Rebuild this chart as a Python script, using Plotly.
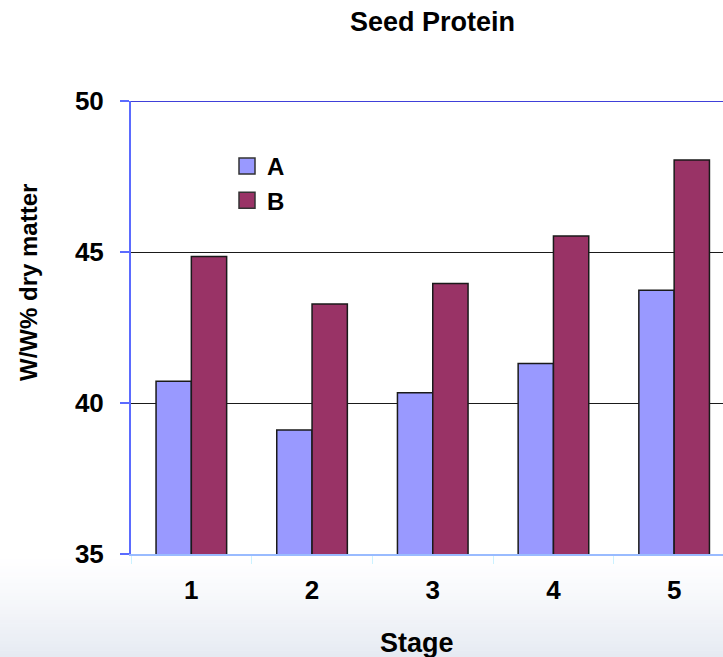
import plotly.graph_objects as go

# Seed protein content by development stage
stages = ["1", "2", "3", "4", "5"]
series_a = [40.72, 39.11, 40.34, 41.31, 43.73]
series_b = [44.85, 43.28, 43.96, 45.53, 48.05]
series_names = ["A", "B"]
y_ticks = [35, 40, 45, 50]

COLOR_A = "#9999ff"
COLOR_B = "#993366"
EDGE = "#1a1a1a"
FONT = "Liberation Sans, Arial, sans-serif"

W, H = 723, 657
L, R, T, B = 131, 0, 101, 103
y_range = [y_ticks[0], y_ticks[-1]]

fig = go.Figure()

for name, vals, col in [(series_names[0], series_a, COLOR_A), (series_names[1], series_b, COLOR_B)]:
    fig.add_trace(go.Bar(
        x=stages, y=vals, name=name, marker=dict(color=col, line=dict(color=EDGE, width=1.5)),
        showlegend=False, legendgroup=name,
    ))
    # square legend swatch
    fig.add_trace(go.Scatter(
        x=[None], y=[None], mode="markers", name=name, legendgroup=name,
        marker=dict(symbol="square", size=16, color=col, line=dict(color="#333333", width=1.5)),
    ))

plot_h = H - T - B
plot_w = W - L - R


def px_x(p):
    return (p - L) / plot_w


def px_y(p):
    return (H - B - p) / plot_h


# soft slide background: bottom band and left edge
shapes = []
n = 30
top_px, bot_px = 556, H
c0 = (255, 255, 255)
c1 = (230, 234, 242)
for i in range(n):
    p0 = top_px + (bot_px - top_px) * i / n
    p1 = top_px + (bot_px - top_px) * (i + 1) / n
    t = ((i + 0.5) / n) ** 1.2
    c = tuple(round(c0[k] + (c1[k] - c0[k]) * t) for k in range(3))
    shapes.append(dict(
        type="rect", xref="paper", yref="paper", layer="below",
        x0=px_x(0), x1=1.0, y0=px_y(p0), y1=px_y(p1 + 0.5),
        fillcolor="rgb(%d,%d,%d)" % c, line=dict(width=0),
    ))
m, k = 12, 5
for i in range(m):
    x1 = 75 * (i + 1) / m
    for j in range(k):
        top = 220 + 300 * j / k
        shapes.append(dict(
            type="rect", xref="paper", yref="paper", layer="below",
            x0=px_x(0), x1=px_x(x1), y0=px_y(H), y1=px_y(top),
            fillcolor="rgba(160,178,212,0.004)", line=dict(width=0),
        ))
# top border of the value axis range
shapes.append(dict(
    type="line", xref="paper", yref="y", x0=0, x1=1, y0=y_range[1], y1=y_range[1],
    line=dict(color="#0000cc", width=1.5), layer="above",
))

fig.update_layout(
    width=W, height=H,
    margin=dict(l=L, r=R, t=T, b=B, autoexpand=False),
    paper_bgcolor="white", plot_bgcolor="white",
    barmode="group", bargap=0.415, bargroupgap=0,
    font=dict(family=FONT, color="black"),
    title=dict(
        text="Seed Protein", x=px_x(432.5), xref="paper", xanchor="center",
        y=1 - 22 / H, yref="container", yanchor="middle",
        font=dict(size=27, weight="bold", family=FONT, color="black"),
    ),
    legend=dict(
        x=px_x(227), y=px_y(144), xanchor="left", yanchor="top",
        bgcolor="rgba(0,0,0,0)", font=dict(size=24, weight="bold", family=FONT),
        tracegroupgap=0, traceorder="grouped",
    ),
    shapes=shapes,
    annotations=[
        dict(text="W/W% dry matter", xref="paper", yref="paper",
             x=px_x(28), y=px_y(283), textangle=-90,
             showarrow=False, xanchor="center", yanchor="middle",
             font=dict(size=24, weight="bold", family=FONT)),
        dict(text="Stage", xref="paper", yref="paper",
             x=px_x(417), y=px_y(643),
             showarrow=False, xanchor="center", yanchor="middle",
             font=dict(size=27, weight="bold", family=FONT)),
    ],
)

fig.update_xaxes(
    type="category", range=[-0.5, -0.5 + plot_w / 120.7],
    showline=True, linecolor="#99bbff", linewidth=2,
    ticks="outside", tickson="boundaries", ticklen=8, tickcolor="#ccf2ff", tickwidth=1,
    tickfont=dict(size=26, weight="bold", family=FONT), ticklabelstandoff=12,
    showgrid=False, zeroline=False, fixedrange=True,
)
fig.update_yaxes(
    range=y_range, tickvals=y_ticks,
    showline=True, linecolor="#5b6bff", linewidth=2,
    ticks="outside", ticklen=9, tickcolor="#5b6bff", tickwidth=1.5,
    tickfont=dict(size=26, weight="bold", family=FONT), ticklabelstandoff=11,
    showgrid=True, gridcolor="#1a1a1a", gridwidth=1, zeroline=False,
)

fig.write_html("out.html")
